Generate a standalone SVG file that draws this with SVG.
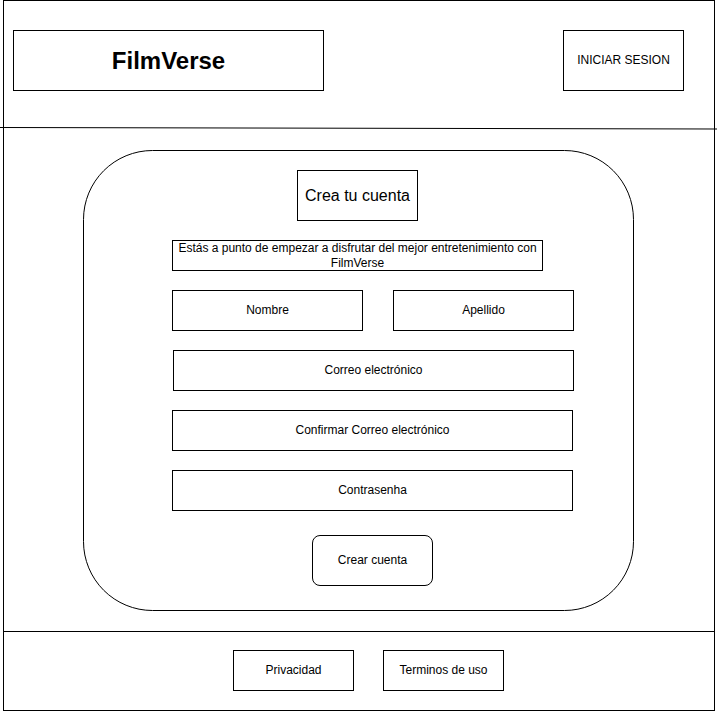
<svg xmlns="http://www.w3.org/2000/svg" width="717" height="711" viewBox="0 0 717 711">
<style>
.b{fill:#fff;stroke:#000;stroke-width:1}
.t{font-family:"Liberation Sans",Arial,sans-serif;font-size:12px;fill:#000;text-anchor:middle;dominant-baseline:central}
</style>
<rect x="0" y="0" width="717" height="711" fill="#fff"/>
<g id="frame">
<rect class="b" x="3.5" y="0.5" width="711" height="710"/>
</g>
<g id="connectors">
<line x1="0" y1="127.5" x2="717" y2="129" stroke="#000" stroke-width="1"/>
<line x1="3.5" y1="631.5" x2="714.5" y2="631.5" stroke="#000" stroke-width="1"/>
</g>
<g id="logo"><rect class="b" x="13.5" y="30.5" width="310" height="60"/><text class="t" x="168.5" y="60.5" style="font-size:24px;font-weight:bold">FilmVerse</text></g>
<g id="login"><rect class="b" x="563.5" y="30.5" width="120" height="60"/><text class="t" x="623.5" y="60">INICIAR SESION</text></g>
<g id="panel"><rect class="b" x="83.5" y="150.5" width="550" height="460" rx="69" ry="69"/></g>
<g id="title"><rect class="b" x="297.5" y="170.5" width="120" height="50"/><text class="t" x="357.5" y="195.5" style="font-size:16px">Crea tu cuenta</text></g>
<g id="intro"><rect class="b" x="172.5" y="240.5" width="370" height="30"/><text class="t" x="357.5" y="247.5">Estás a punto de empezar a disfrutar del mejor entretenimiento con</text><text class="t" x="357.5" y="263">FilmVerse</text></g>
<g id="nombre"><rect class="b" x="172.5" y="290.5" width="190" height="40"/><text class="t" x="267.5" y="310">Nombre</text></g>
<g id="apellido"><rect class="b" x="393.5" y="290.5" width="180" height="40"/><text class="t" x="483.5" y="310">Apellido</text></g>
<g id="correo"><rect class="b" x="173.5" y="350.5" width="400" height="40"/><text class="t" x="373.5" y="370">Correo electrónico</text></g>
<g id="confirmar"><rect class="b" x="172.5" y="410.5" width="400" height="40"/><text class="t" x="372.5" y="430">Confirmar Correo electrónico</text></g>
<g id="contrasenha"><rect class="b" x="172.5" y="470.5" width="400" height="40"/><text class="t" x="372.5" y="490">Contrasenha</text></g>
<g id="crear"><rect class="b" x="312.5" y="535.5" width="120" height="50" rx="7.5" ry="7.5"/><text class="t" x="372.5" y="560">Crear cuenta</text></g>
<g id="privacidad"><rect class="b" x="233.5" y="650.5" width="120" height="40"/><text class="t" x="293.5" y="670">Privacidad</text></g>
<g id="terminos"><rect class="b" x="383.5" y="650.5" width="120" height="40"/><text class="t" x="443.5" y="670">Terminos de uso</text></g>
</svg>
